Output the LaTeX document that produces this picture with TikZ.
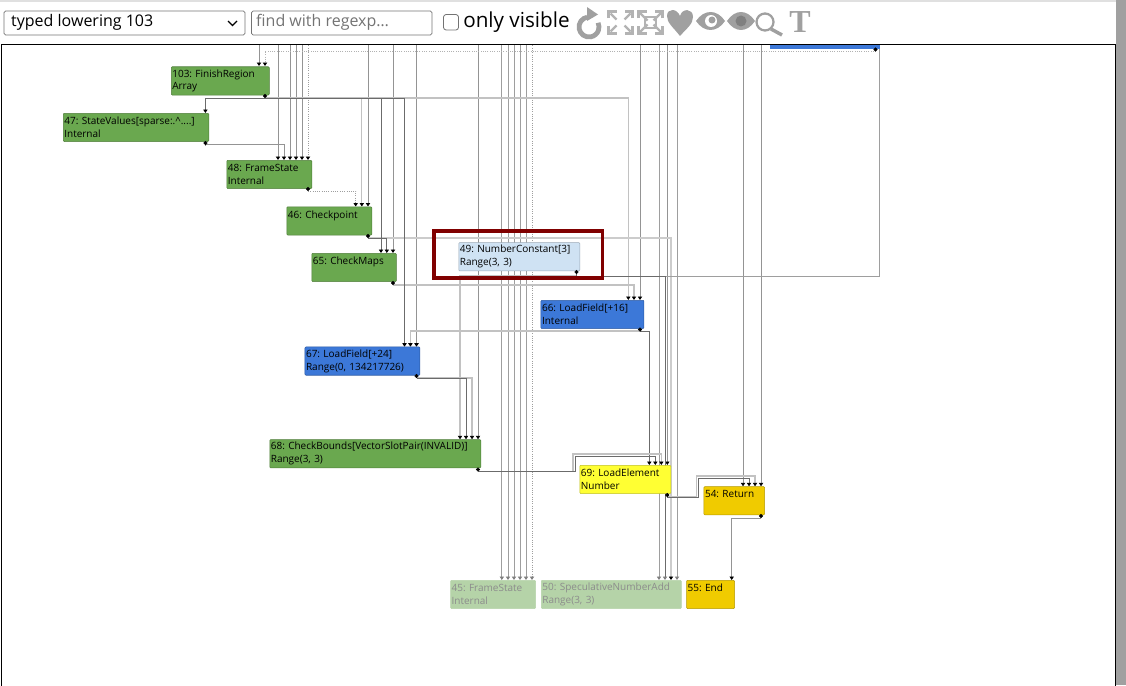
\documentclass[tikz,border=0pt]{standalone}
\usepackage{fontspec}
\setmainfont{Open Sans}
\newfontfamily\slabfont{Liberation Serif}
\usetikzlibrary{arrows.meta,backgrounds}

\definecolor{opgreen}{HTML}{6AA84F}
\definecolor{opblue}{HTML}{3C78D8}
\definecolor{oppale}{HTML}{CFE2F3}
\definecolor{opyellow}{HTML}{FFFF33}
\definecolor{opgold}{HTML}{F0CB00}
\definecolor{opdim}{HTML}{B5D3A8}
\definecolor{toolgray}{HTML}{A0A0A0}
\definecolor{markred}{HTML}{800000}

%Ports on top of a node
\newcommand{\ports}[3]{\foreach [count=\i] \x in {#3} \coordinate (#1p\i) at (\x,#2);}

\begin{document}
\begin{tikzpicture}
  [
    x=0.75pt, y=-0.75pt,
    op/.style      = {draw=#1!75!black, fill=#1, rounded corners=0.7pt, anchor=north west, align=left,
                      inner xsep=0.8pt, inner ysep=0pt, minimum height=21.2pt,
                      font=\fontsize{7.5}{9.7}\selectfont\frenchspacing},
    point/.style   = {draw, circle, fill=black, inner sep=0pt, minimum size=2.6pt},
    wire/.style    = {draw=black!42, line width=0.7pt, -{Triangle[black,length=2.6pt,width=3.2pt]}},
    faint/.style   = {wire, draw=black!24, line width=0.9pt},
    heavy/.style   = {wire, draw=black!58, line width=0.6pt},
    dots/.style    = {wire, draw=black!38, line width=0.7pt, densely dotted},
    dimwire/.style = {draw=black!38, line width=0.7pt, -{Triangle[black!50,length=2.6pt,width=3.2pt]}},
    icon/.style    = {draw=toolgray!80, line width=1.7pt},
    field/.style   = {draw=black!55, rounded corners=1.2pt, line width=0.6pt},
  ]
\useasboundingbox (0,0) rectangle (1126,685);

%Toolbar
\fill[black!12] (0,0) rectangle (1126,2);
\fill[toolgray] (1116,0) rectangle (1126,685);
\draw[line width=0.75pt] (1,45) rectangle (1115.5,686);
\draw[field] (4,11) rectangle (245,35);
\draw[line width=1pt] (228,21) -- (232.5,25.5) -- (237,21);
\node[anchor=west, font=\fontsize{12}{14}\selectfont] (select) at (6.5,22.5) {typed lowering 103};
\draw[field] (251.5,11) rectangle (432,35);
\node[anchor=west, text=black!55, font=\fontsize{12}{14}\selectfont] (find) at (251.5,22) {find with regexp…};
\draw[field, rounded corners=2pt] (443.5,14.5) rectangle (458.5,30);
\node[anchor=west, inner sep=0pt, font=\fontsize{15.5}{18}\selectfont] (visible) at (463,22.5) {only visible};

%Tool icons
\draw[draw=toolgray, line width=3.6pt] (589,27) ++(-100:10) arc [start angle=-100, end angle=-385, radius=10];
\fill[toolgray] (587,7) -- (598,14.5) -- (587,21) -- cycle;
\foreach \sx/\sy in {1/1,1/-1,-1/1,-1/-1}
{
\draw[icon] (620.5+\sx*12,22.5+\sy*4) -- (620.5+\sx*12,22.5+\sy*11) -- (620.5+\sx*4,22.5+\sy*11);
\draw[icon] (620.5+\sx*10,22.5+\sy*9) -- (620.5+\sx*4,22.5+\sy*3);
\draw[icon] (650.5+\sx*12,22.5+\sy*4) -- (650.5+\sx*12,22.5+\sy*11) -- (650.5+\sx*4,22.5+\sy*11);
\draw[icon] (650.5+\sx*11,22.5+\sy*10) -- (650.5+\sx*3,22.5+\sy*2);
}
\draw[icon] (645,17) rectangle (656,28);
\fill[toolgray] (680,36) .. controls (673,27) and (667,23) .. (667,16) .. controls (667,8) and (677,8) .. (680,16)
  .. controls (682,8) and (693,8) .. (693,17) .. controls (693,24) and (687,28) .. (680,36) -- cycle;
\fill[toolgray] (696,21) .. controls (704,9) and (717,9) .. (725,21) .. controls (717,33) and (704,33) .. (696,21) -- cycle;
\fill[white] (711,21) circle [radius=6];
\fill[toolgray] (712,20) circle [radius=3.5];
\fill[toolgray] (727,21) .. controls (735,9) and (747,9) .. (755,21) .. controls (747,33) and (735,33) .. (727,21) -- cycle;
\fill[black!50] (741,21) circle [radius=5.5];
\draw[draw=toolgray, line width=1.7pt] (765,22) circle [radius=8.5];
\draw[draw=toolgray, line width=2.6pt] (771,29) -- (782,35);
\node[text=toolgray, font=\slabfont\fontsize{24}{24}\selectfont\bfseries, inner sep=0pt] (ttool) at (800,22) {T};

%Operator boxes: name/left/top/width/colour/text
\foreach \name/\lx/\ty/\wid/\col/\txt in {
  n103/171/66.5/98/opgreen/{103: FinishRegion\\Array},
  n47/63/113/145.5/opgreen/{47: StateValues[sparse:.\^{}....]\\Internal},
  n48/226.5/160/85/opgreen/{48: FrameState\\Internal},
  n46/286.5/206.5/85/opgreen/{46: Checkpoint\\~},
  n65/311.5/253/84.5/opgreen/{65: CheckMaps\\~},
  n49/458.5/242.3/121/oppale/{49: NumberConstant[3]\\Range(3, 3)},
  n66/540.7/300/103/opblue/{66: LoadField[+16]\\Internal},
  n67/304.7/346.7/115/opblue/{67: LoadField[+24]\\Range(0, 134217726)},
  n68/269.5/439.3/211/opgreen/{68: CheckBounds[VectorSlotPair(INVALID)]\\Range(3, 3)},
  n69/579.5/465/91/opyellow/{69: LoadElement\\Number},
  n54/703.7/486.3/60.6/opgold/{54: Return\\~},
  n55/686.3/580/48/opgold/{55: End\\~}}
{
\pgfmathsetlengthmacro{\tw}{\wid*0.75-1.6pt}
\node[op=\col, text width=\tw] (\name) at (\lx,\ty) {\txt};
}
\foreach \name/\lx/\wid/\txt in {
  n45/450.3/85/{45: FrameState\\Internal},
  n50/541/140/{50: SpeculativeNumberAdd\\Range(3, 3)}}
{
\pgfmathsetlengthmacro{\tw}{\wid*0.75-1.6pt}
\node[op=opdim, draw=opdim, text=black!45, text width=\tw] (\name) at (\lx,580) {\txt};
}
\node[draw=opblue, fill=opblue, anchor=north west, inner sep=0pt, minimum width=82pt, minimum height=2.2pt] (n60) at (769.5,45.5) {};

%Output dots
\foreach \name/\x/\y in {n103/265/96,n47/205.4/143,n48/308/189,n46/368/236,n65/393/283,n49/576.5/272,
  n66/640/329.5,n67/416.5/376,n68/478/469.5,n69/667.3/495,n54/761/516,n60/875.5/49.5}
  \node[point] (\name o) at (\x,\y) {};

%Input ports
\ports{n103}{66}{259,265}
\ports{n47}{113}{205.4}
\ports{n48}{160}{278,284,290,296,302,308}
\ports{n46}{206.5}{355.7,361.8,368}
\ports{n65}{253}{381,386.8,393}
\ports{n66}{300}{628.3,634,640}
\ports{n67}{346.7}{404.5,410.4,416.5}
\ports{n68}{439.3}{460,466,472,478}
\ports{n69}{465}{649.3,655.3,661.3,667.3}
\ports{n54}{486.3}{743,749,755,761}
\ports{n55}{580}{731.7}
\ports{n45}{580}{501.8,508,514,520,526,532}
\ports{n50}{580}{659,665,671,677}

\coordinate (topedge) at (0,45.5);
\coordinate (wrap) at (879.5,45.5);

\begin{scope}[on background layer]
%Inputs that come from above the window
\foreach \p in {n103p1,n48p1,n48p3,n48p4,n48p5,n46p3,n65p3,n67p3,n68p4,n66p3,n69p4,n54p1,n54p4}
  \draw[wire] (\p |- topedge) -- (\p);
\draw[dots] (n48p6 |- topedge) -- (n48p6);
\foreach \p in {n45p1,n45p2,n45p3,n45p4,n45p5,n50p1,n50p4}
  \draw[dimwire] (\p |- topedge) -- (\p);
\draw[dimwire, densely dotted] (n45p6 |- topedge) -- (n45p6);

%Faint connections
\draw[dots, draw=black!30] (n60o) -- ++(0,1.5) -| (n103p2);
\draw[faint] (n103o) -- ++(0,2) -| (n66p1);
\draw[faint] (n103o) -- ++(0,2) -| (n46p2);
\draw[faint] (n65o) -- ++(0,2) -| (n66p2);
\draw[faint] (n66o) -- ++(0,1.5) -| (n67p2);
\draw[faint] (n67o) -- ++(0,2) -| (n68p3);
\draw[faint, draw=black!20] (n46o) -- ++(0,2) -| (n50p3);
\draw[faint, draw=black!38, line width=0.7pt, -] (n49o) -- ++(0,4) -| (wrap);
\draw[faint] (n49o) -- ++(0,4) -| (n68p1);

%Main connections
\draw[heavy] (n103o) -- ++(0,2) -| (n47p1);
\draw[heavy] (n103o) -- ++(0,2) -| (n65p1);
\draw[heavy] (n103o) -- ++(0,2) -| (n67p1);
\draw[wire] (n47o) -- ++(0,1.5) -| (n48p2);
\draw[dots] (n48o) -- ++(0,2) -| (n46p1);
\draw[heavy] (n46o) -- ++(0,2) -| (n65p2);
\draw[dimwire, draw=black!58, line width=0.6pt] (n49o) -- ++(0,4) -| (n50p2);
\draw[heavy] (n66o) -- ++(0,1.5) -| (n69p1);
\draw[heavy] (n67o) -- ++(0,2) -| (n68p2);
\draw[faint] (n68o) -- ++(0,2) -- ++(95,0) -- ++(0,-17.5) -| (n69p3);
\draw[heavy] (n68o) -- ++(0,2) -- ++(97,0) -- ++(0,-15.5) -| (n69p2);
\draw[faint] (n69o) -- ++(0,2) -- ++(29.5,0) -- ++(0,-21) -| (n54p3);
\draw[heavy] (n69o) -- ++(0,2) -- ++(31.5,0) -- ++(0,-19) -| (n54p2);
\draw[wire] (n54o) -- ++(0,2) -| (n55p1);
\end{scope}

%Selected node marker
\draw[markred, line width=2.3pt] (434,231) rectangle (602.5,278);
\end{tikzpicture}
\end{document}
